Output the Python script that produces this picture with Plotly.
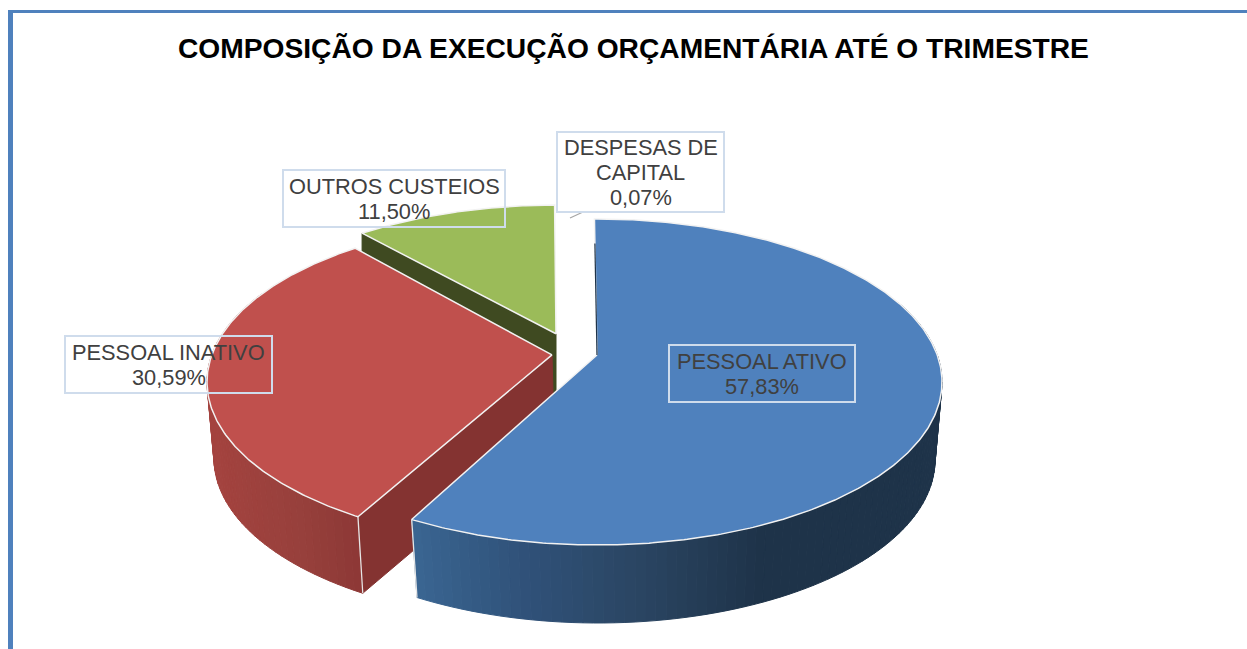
import math
import plotly.graph_objects as go

# ---- data ----
CATEGORIAS = ["PESSOAL ATIVO", "PESSOAL INATIVO", "OUTROS CUSTEIOS", "DESPESAS DE CAPITAL"]
VALORES = [57.83, 30.59, 11.50, 0.07]
TITULO = "COMPOSIÇÃO DA EXECUÇÃO ORÇAMENTÁRIA ATÉ O TRIMESTRE"

# ---- drawing style ----
GEOM = {
    "PESSOAL ATIVO": dict(cx=597, cy=382, d=0.166, rot=-0.5, a=345, b=163, bdx=1, bdy=78, ba=337,
                          top="#4f81bd", cut="#1e3349",
                          grad=[(417, "#3a6591"), (520, "#30527a"), (640, "#2a4562"), (760, "#1e3349"), (950, "#1e3349")]),
    "PESSOAL INATIVO": dict(cx=552, cy=382, d=0.166, rot=1.0, a=345, b=163, bdx=2, bdy=76.5, ba=340,
                            top="#c0504d", cut="#843331",
                            grad=[(205, "#a5433f"), (300, "#97403c"), (365, "#8c3735")]),
    "OUTROS CUSTEIOS": dict(cx=556, cy=368, d=0.21, rot=0.0, a=345, b=163, bdx=0, bdy=79, ba=345,
                            top="#9bbb59", cut="#3f4a21", grad=[(0, "#3f4a21"), (1247, "#3f4a21")]),
}
CAIXAS = {
    "PESSOAL ATIVO": (669, 345, 855, 402),
    "PESSOAL INATIVO": (65, 336, 272, 393),
    "OUTROS CUSTEIOS": (283, 170, 505, 227),
    "DESPESAS DE CAPITAL": (557, 132, 724, 212),
}
QUEBRA = {"DESPESAS DE CAPITAL": ["DESPESAS DE", "CAPITAL"]}
PASSO_LINHA = 25.3


def hex2rgb(h):
    return tuple(int(h[i:i + 2], 16) for i in (1, 3, 5))


def cor_grad(stops, x):
    if x <= stops[0][0]:
        return stops[0][1]
    for (x0, c0), (x1, c1) in zip(stops, stops[1:]):
        if x <= x1:
            f = (x - x0) / (x1 - x0)
            a, b = hex2rgb(c0), hex2rgb(c1)
            return "#%02x%02x%02x" % tuple(round(a[i] + (b[i] - a[i]) * f) for i in range(3))
    return stops[-1][1]


def ponto(g, t, fundo=False):
    """Clock angle (deg) on the pie rim to page position, with the perspective shift."""
    r = math.radians(t + g["rot"])
    u, v = math.sin(r), math.cos(r)
    d = g["d"]
    q = 1 + d * v
    up = u * math.sqrt(1 - d * d) / q
    vp = (v + d) / q
    if fundo:
        return g["cx"] + g["bdx"] + g["ba"] * up, g["cy"] + g["bdy"] - g["b"] * vp
    return g["cx"] + g["a"] * up, g["cy"] - g["b"] * vp


def apice(g, fundo=False):
    d = g["d"]
    if fundo:
        return g["cx"] + g["bdx"], g["cy"] + g["bdy"] - g["b"] * d
    return g["cx"], g["cy"] - g["b"] * d


def poly(fig, pts, fill, line=None, lw=1.0, hover=None):
    xs = [p[0] for p in pts] + [pts[0][0]]
    ys = [p[1] for p in pts] + [pts[0][1]]
    fig.add_trace(go.Scatter(
        x=xs, y=ys, mode="lines", fill="toself", fillcolor=fill,
        line=dict(color=line or fill, width=lw), showlegend=False,
        hoverinfo="text" if hover else "skip", text=hover, hoveron="fills" if hover else None,
    ))


def seg(fig, p, q, color, lw):
    fig.add_trace(go.Scatter(x=[p[0], q[0]], y=[p[1], q[1]], mode="lines",
                             line=dict(color=color, width=lw), showlegend=False, hoverinfo="skip"))


def arco(t0, t1, n=None):
    n = n or max(2, int(abs(t1 - t0) * 2))
    return [t0 + (t1 - t0) * i / n for i in range(n + 1)]


fatias = {}
acum = 0.0
for nome, valor in zip(CATEGORIAS, VALORES):
    fatias[nome] = (acum * 3.6, (acum + valor) * 3.6)
    acum += valor


def pct(v):
    return f"{v:.2f}%".replace(".", ",")


fig = go.Figure()

# back to front: green, red, blue
for nome in ["OUTROS CUSTEIOS", "PESSOAL INATIVO", "PESSOAL ATIVO"]:
    g = GEOM[nome]
    t0, t1 = fatias[nome]
    valor = VALORES[CATEGORIAS.index(nome)]

    if nome == "PESSOAL INATIVO":
        # cut face at the start of the slice
        poly(fig, [apice(g), ponto(g, t0), ponto(g, t0, True), apice(g, True)], g["cut"])
    if nome == "OUTROS CUSTEIOS":
        # cut face at the start of the slice
        poly(fig, [ponto(g, t0), apice(g), apice(g, True), ponto(g, t0, True)], g["cut"])

    # rim wall, drawn as strips for the gradient
    if nome == "PESSOAL ATIVO":
        faixa = (70, t1)
    elif nome == "PESSOAL INATIVO":
        faixa = (t0, t0 + 85)
    else:
        faixa = None
    if faixa:
        ts = arco(faixa[0], faixa[1], int((faixa[1] - faixa[0]) / 1.5))
        for a, b in zip(ts, ts[1:]):
            pts = [ponto(g, a), ponto(g, b), ponto(g, b, True), ponto(g, a, True)]
            xm = sum(p[0] for p in pts) / 4
            poly(fig, pts, cor_grad(g["grad"], xm))

    # top face
    topo = [apice(g)] + [ponto(g, t) for t in arco(t0, t1)]
    poly(fig, topo, g["top"], line="#f2f2f2", lw=1.5, hover=f"{nome}<br>{pct(valor)}")

    # light corner edge
    if nome != "OUTROS CUSTEIOS":
        canto = t0 if nome == "PESSOAL INATIVO" else t1
        seg(fig, ponto(g, canto), ponto(g, canto, True), "#e6e6e6", 1.3)

# thin dark sliver on the blue slice's start edge
g = GEOM["PESSOAL ATIVO"]
ini = ponto(g, 0)
ap = apice(g)
seg(fig, (ap[0] + (ini[0] - ap[0]) * 0.82, ap[1] + (ini[1] - ap[1]) * 0.82), ap, g["cut"], 1.2)

# frame, label boxes, leader line
shapes = [
    dict(type="line", x0=8, x1=1247, y0=11.5, y1=11.5, line=dict(color="#4f81bd", width=3)),
    dict(type="line", x0=10.5, x1=10.5, y0=10, y1=649, line=dict(color="#4f81bd", width=5)),
    dict(type="line", x0=570, y0=218, x1=583, y1=212, line=dict(color="#a6a6a6", width=1.2)),
]
anots = []
for nome, valor in zip(CATEGORIAS, VALORES):
    x0, y0, x1, y1 = CAIXAS[nome]
    shapes.append(dict(type="rect", x0=x0, y0=y0, x1=x1, y1=y1,
                       line=dict(color="#cfdcec", width=2), fillcolor="rgba(0,0,0,0)"))
    linhas = QUEBRA.get(nome, [nome]) + [pct(valor)]
    yc = (y0 + y1) / 2 + 0.5
    for i, linha in enumerate(linhas):
        anots.append(dict(x=(x0 + x1) / 2, y=yc + (i - (len(linhas) - 1) / 2) * PASSO_LINHA,
                          xref="x", yref="y", showarrow=False, text=linha, align="center",
                          font=dict(family="Liberation Sans", size=21.8, color="#404040")))

anots.append(dict(x=633, y=47.5, xref="x", yref="y", showarrow=False, text=f"<b>{TITULO}</b>",
                  font=dict(family="Liberation Sans", size=28.2, color="#000000")))

fig.update_layout(
    width=1247, height=649, autosize=False,
    margin=dict(l=0, r=0, t=0, b=0),
    paper_bgcolor="#ffffff", plot_bgcolor="#ffffff",
    xaxis=dict(range=[0, 1247], visible=False, fixedrange=True),
    yaxis=dict(range=[649, 0], visible=False, fixedrange=True),
    shapes=shapes, annotations=anots, showlegend=False,
)

fig.write_html("out.html", config=dict(displayModeBar=False),
               post_script="document.body.style.margin='0';document.body.style.overflow='hidden';")
